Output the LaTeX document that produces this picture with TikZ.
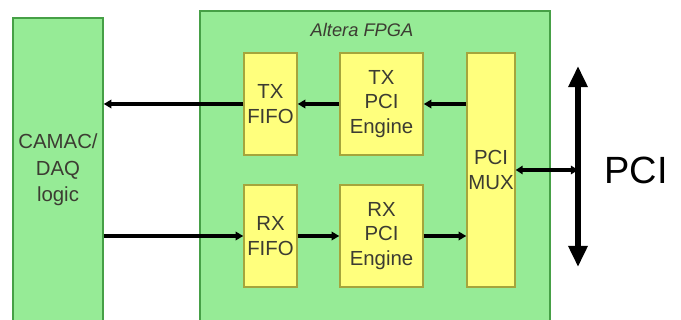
\documentclass[tikz,border=0pt]{standalone}
\usepackage{fontspec}
\setmainfont{Liberation Sans}
\usepackage{tikz}
\usetikzlibrary{arrows.meta,positioning}
\definecolor{bgreen}{RGB}{150,235,150}
\definecolor{bgreendk}{RGB}{70,160,70}
\definecolor{byellow}{RGB}{255,255,125}
\definecolor{byellowdk}{RGB}{165,165,60}
\definecolor{btext}{RGB}{60,60,50}

\begin{document}
\begin{tikzpicture}[
    gbox/.style={rectangle, draw=bgreendk, fill=bgreen, line width=1pt, inner sep=0pt},
    ybox/.style={rectangle, draw=byellowdk, fill=byellow, line width=1pt, inner sep=0pt,
        font=\fontsize{14.5}{17.5}\selectfont, text=btext, align=center},
    flow/.style={-{Triangle[length=5.5pt, width=6pt]}, line width=2.4pt},
    dflow/.style={{Triangle[length=5pt, width=6pt]}-{Triangle[length=5pt, width=6pt]}, line width=2.2pt},
    bus/.style={{Triangle[length=15pt, width=13pt]}-{Triangle[length=15pt, width=13pt]}, line width=4.2pt}
]
    \useasboundingbox (0,0) rectangle (17.025,-8);
    \clip (0,0) rectangle (17.025,-8);

    % Outer blocks
    \node[gbox, minimum width=2.25cm, minimum height=7.6cm, font=\fontsize{14.5}{19}\selectfont,
        text=btext, align=center] (camac) at (1.45,-4.25) {CAMAC/\\DAQ\\logic};
    \node[gbox, minimum width=8.75cm, minimum height=8.25cm] (fpga) at (9.375,-4.4) {};
    \node[font=\fontsize{13}{15}\selectfont\itshape, text=btext] (fpgalbl) at (9.05,-0.75) {Altera FPGA};

    % FIFOs and engines
    \node[ybox, minimum width=1.325cm, minimum height=2.55cm] (txfifo) at (6.7625,-2.6) {TX\\FIFO};
    \node[ybox, minimum width=1.325cm, minimum height=2.55cm] (rxfifo) at (6.7625,-5.9) {RX\\FIFO};
    \node[ybox, minimum width=2.075cm, minimum height=2.55cm] (txeng) at (9.5375,-2.6) {TX\\PCI\\Engine};
    \node[ybox, minimum width=2.075cm, minimum height=2.55cm] (rxeng) at (9.5375,-5.9) {RX\\PCI\\Engine};
    \node[ybox, minimum width=1.2cm, minimum height=5.85cm] (mux) at (12.275,-4.25) {PCI\\MUX};

    % PCI bus
    \coordinate (bustop) at (14.45,-1.65);
    \coordinate (busbot) at (14.45,-6.675);
    \coordinate (bustap) at (14.45,-4.25);
    \draw[bus] (bustop) -- (busbot);
    \node[font=\fontsize{27}{30}\selectfont] (pcilbl) at (15.9,-4.25) {PCI};

    % Data paths
    \draw[flow] (txfifo.west) -- (camac.east |- txfifo.west);
    \draw[flow] (txeng.west) -- (txfifo.east);
    \draw[flow] (mux.west |- txeng.east) -- (txeng.east);
    \draw[flow] (camac.east |- rxfifo.west) -- (rxfifo.west);
    \draw[flow] (rxfifo.east) -- (rxeng.west);
    \draw[flow] (rxeng.east) -- (mux.west |- rxeng.east);
    \draw[dflow] (mux.east) -- (bustap);

\end{tikzpicture}
\end{document}
